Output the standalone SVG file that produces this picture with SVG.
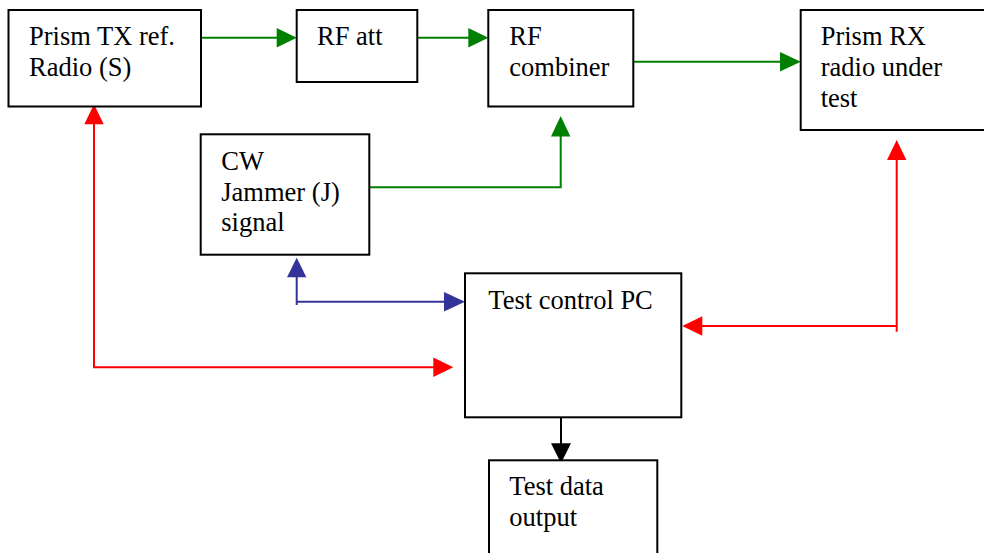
<svg xmlns="http://www.w3.org/2000/svg" width="984" height="553" viewBox="0 0 984 553">
<defs>
<style>
.box{fill:#fff;stroke:#000;stroke-width:2}
.t{font-family:"Liberation Serif","Times New Roman",serif;font-size:26.5px;fill:#000}
.g{fill:none;stroke:#008000;stroke-width:2}
.r{fill:none;stroke:#ff0000;stroke-width:2}
.b{fill:none;stroke:#333399;stroke-width:2}
.k{fill:none;stroke:#000;stroke-width:2}
</style>
</defs>
<rect width="984" height="553" fill="#fff"/>
<g id="connectors">
<!-- TX -> RF att -->
<line class="g" x1="201" y1="37.7" x2="280" y2="37.7"/>
<polygon fill="#008000" points="296.7,37.7 276.7,28 276.7,47.4"/>
<!-- RF att -> combiner -->
<line class="g" x1="417" y1="37.7" x2="472" y2="37.7"/>
<polygon fill="#008000" points="488.3,37.7 468.3,28 468.3,47.4"/>
<!-- combiner -> RX -->
<line class="g" x1="633" y1="61.7" x2="784" y2="61.7"/>
<polygon fill="#008000" points="800.7,61.7 780,52 780,71.4"/>
<!-- CW -> combiner -->
<polyline class="g" points="369.3,187.3 560.7,187.3 560.7,132"/>
<polygon fill="#008000" points="560.7,116 551,136.5 570.4,136.5"/>
<!-- PC <-> TX (red) -->
<polyline class="r" points="94,120 94,367.3 437,367.3"/>
<polygon fill="#ff0000" points="94,104.3 84.3,124.3 103.7,124.3"/>
<polygon fill="#ff0000" points="453.3,367.3 433.3,357.6 433.3,377"/>
<!-- RX <-> PC (red) -->
<polyline class="r" points="896.7,156 896.7,331.7"/>
<line class="r" x1="896.7" y1="326" x2="698" y2="326"/>
<polygon fill="#ff0000" points="896.7,140 887,160 906.4,160"/>
<polygon fill="#ff0000" points="682.3,326 702.3,316.3 702.3,335.7"/>
<!-- CW <-> PC (blue) -->
<polyline class="b" points="296.7,273 296.7,305"/>
<line class="b" x1="296.7" y1="301.7" x2="448" y2="301.7"/>
<polygon fill="#333399" points="296.7,257.7 287,277.3 306.4,277.3"/>
<polygon fill="#333399" points="465,301.7 444,292 444,311.4"/>
<!-- PC -> data output -->
<line class="k" x1="561" y1="417" x2="561" y2="447"/>
<polygon fill="#000" points="561,463.3 551,443.3 571,443.3"/>
</g>
<g id="node-tx">
<rect class="box" x="8.5" y="10" width="192.5" height="96.5"/>
<text class="t" x="29" y="45">Prism TX ref.</text>
<text class="t" x="29" y="76">Radio (S)</text>
</g>
<g id="node-att">
<rect class="box" x="296.7" y="10" width="120.6" height="72"/>
<text class="t" x="317" y="45">RF att</text>
</g>
<g id="node-combiner">
<rect class="box" x="488.3" y="10" width="145" height="96.5"/>
<text class="t" x="509.3" y="45">RF</text>
<text class="t" x="509.3" y="76">combiner</text>
</g>
<g id="node-rx">
<rect class="box" x="800.7" y="10" width="200" height="120"/>
<text class="t" x="820.7" y="45">Prism RX</text>
<text class="t" x="820.7" y="76">radio under</text>
<text class="t" x="820.7" y="107">test</text>
</g>
<g id="node-cw">
<rect class="box" x="200.7" y="134.3" width="168.6" height="120.4"/>
<text class="t" x="221.3" y="170">CW</text>
<text class="t" x="221.3" y="200.5">Jammer (J)</text>
<text class="t" x="221.3" y="231">signal</text>
</g>
<g id="node-pc">
<rect class="box" x="465" y="273.3" width="216.3" height="144"/>
<text class="t" x="488.3" y="309.3">Test control PC</text>
</g>
<g id="node-output">
<rect class="box" x="489" y="460.3" width="168.3" height="110"/>
<text class="t" x="509.3" y="495">Test data</text>
<text class="t" x="509.3" y="525.7">output</text>
</g>
</svg>
